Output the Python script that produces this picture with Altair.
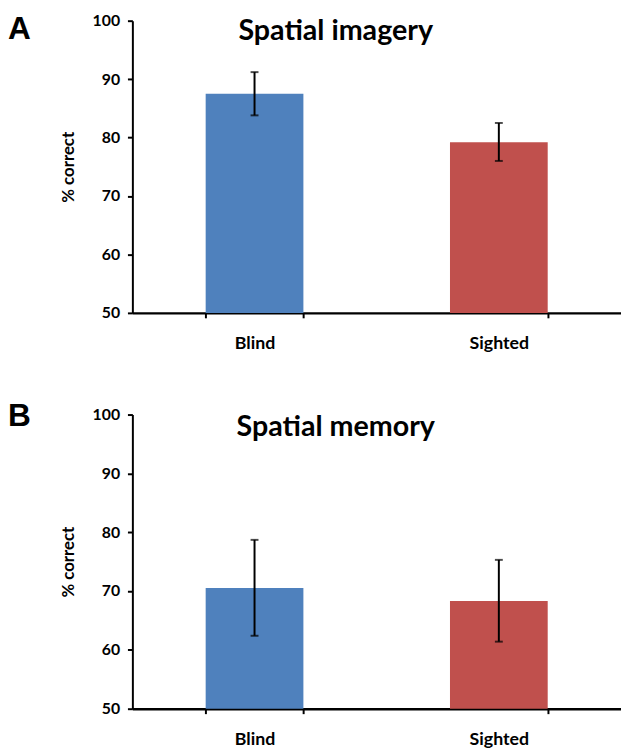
import altair as alt
import pandas as pd

groups = ["Blind", "Sighted"]
colors = ["#4F81BD", "#C0504D"]

imagery_mean = [87.5, 79.2]
imagery_hi = [91.2, 82.5]
imagery_lo = [83.8, 76.0]

memory_mean = [70.5, 68.3]
memory_hi = [78.7, 75.3]
memory_lo = [62.4, 61.4]

FONT = "Lato"
W = 495


def panel(mean, lo, hi, title, letter, H, title_y, letter_y):
    df = pd.DataFrame({"group": groups, "mean": mean, "lo": lo, "hi": hi})
    x = alt.X(
        "group:N",
        sort=groups,
        scale=alt.Scale(paddingInner=0.6, paddingOuter=0.3),
        axis=alt.Axis(
            title=None, labelAngle=0, tickBand="extent", tickSize=5, tickWidth=2,
            tickColor="black", domainColor="black", domainWidth=2.5,
            labelFont=FONT, labelFontSize=18, labelFontWeight="bold",
            labelColor="black", labelPadding=17,
        ),
    )
    yscale = alt.Scale(domain=[50, 100], zero=False, nice=False)
    yaxis = alt.Axis(
        title="% correct", values=[50, 60, 70, 80, 90, 100], grid=False,
        tickSize=5, tickWidth=2, tickColor="black", domainColor="black",
        domainWidth=2, labelFont=FONT, labelFontSize=16, labelFontWeight="bold",
        labelColor="black", labelPadding=8, titleFont=FONT, titleFontSize=17,
        titleFontWeight="bold", titleColor="black", titlePadding=15,
    )
    base = alt.Chart(df)
    bars = base.mark_bar().encode(
        x=x,
        y=alt.Y("mean:Q", scale=yscale, axis=yaxis),
        y2=alt.datum(50),
        color=alt.Color("group:N", scale=alt.Scale(domain=groups, range=colors), legend=None),
    )
    rule = base.mark_rule(color="black", strokeWidth=2).encode(
        x=alt.X("group:N", sort=groups), y="lo:Q", y2="hi:Q"
    )
    cap_lo = base.mark_tick(color="black", thickness=2, size=8, orient="horizontal").encode(
        x=alt.X("group:N", sort=groups), y="lo:Q"
    )
    cap_hi = base.mark_tick(color="black", thickness=2, size=8, orient="horizontal").encode(
        x=alt.X("group:N", sort=groups), y="hi:Q"
    )
    ttl = alt.Chart(pd.DataFrame({"t": [title]})).mark_text(
        font=FONT, fontSize=29, fontWeight="bold", color="black", align="center", baseline="alphabetic"
    ).encode(text="t:N", x=alt.value(206), y=alt.value(title_y))
    let = alt.Chart(pd.DataFrame({"t": [letter]})).mark_text(
        font="Liberation Sans", fontSize=32, fontWeight="bold", color="black", align="left", baseline="alphabetic"
    ).encode(text="t:N", x=alt.value(-126), y=alt.value(letter_y))
    return alt.layer(bars, rule, cap_lo, cap_hi, ttl, let).properties(width=W, height=H)


top = panel(imagery_mean, imagery_lo, imagery_hi, "Spatial imagery", "A", 296, 20, 19)
bottom = panel(memory_mean, memory_lo, memory_hi, "Spatial memory", "B", 298, 22, 12)

chart = (
    alt.vconcat(top, bottom, spacing=49)
    .properties(padding={"top": 0, "left": 0, "right": 0, "bottom": 0})
    .configure_view(stroke=None)
)

chart.save("out.html", embed_options={"renderer": "svg", "actions": False})
